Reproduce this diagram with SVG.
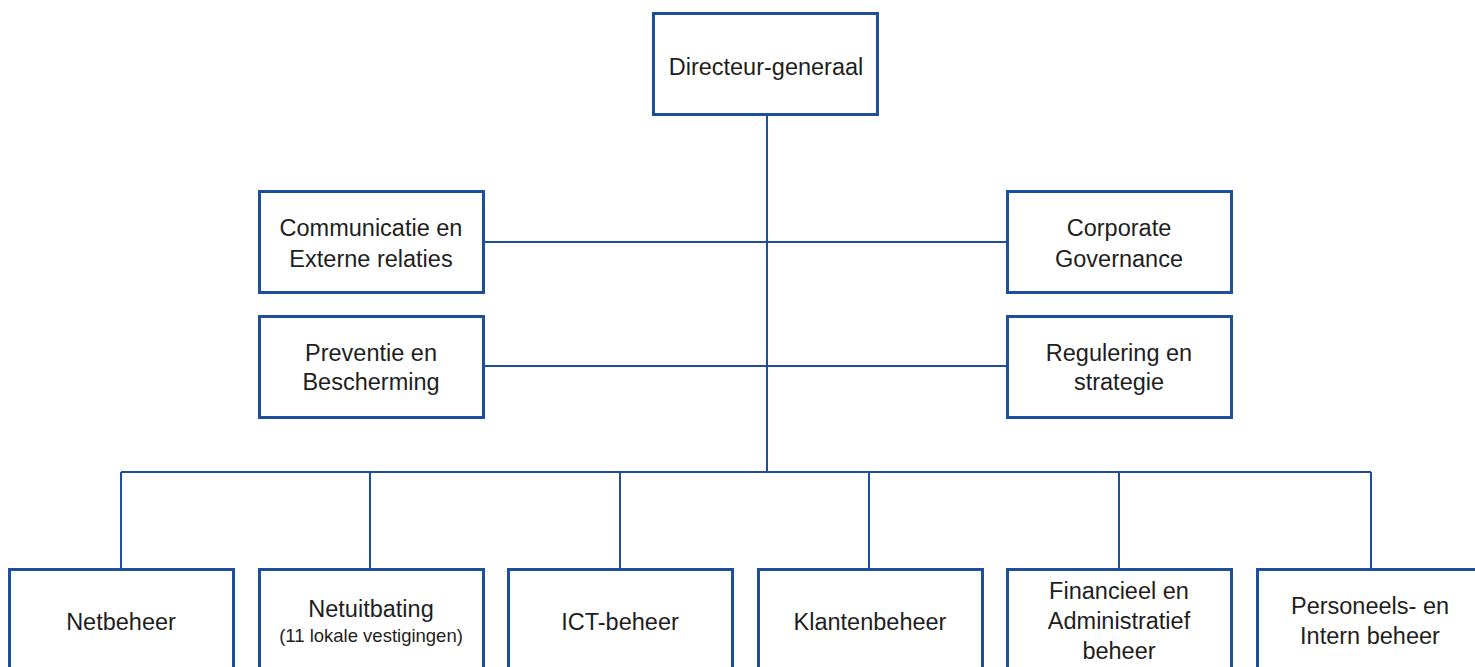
<svg xmlns="http://www.w3.org/2000/svg" width="1475" height="667" viewBox="0 0 1475 667">
<style>
.box{fill:#fff;stroke:#1d4f9c;stroke-width:3}
.ln{fill:none;stroke:#1d4f9c;stroke-width:2}
text{font-family:"Liberation Sans",Arial,sans-serif;font-size:23.5px;fill:#1e1e1e;text-anchor:middle}
.sm{font-size:18.5px}
</style>
<rect width="1475" height="667" fill="#fff"/>
<g id="connectors">
<path class="ln" d="M767 115V472M483 242H1007M483 366H1007M121 472H1371M121 472V569M370 472V569M620 472V569M869 472V569M1119 472V569M1371 472V569"/>
</g>
<g id="n-dg"><rect class="box" x="653.5" y="13.5" width="224" height="101"/><text x="766" y="75">Directeur-generaal</text></g>
<g id="n-comm"><rect class="box" x="259.5" y="191.5" width="224" height="101"/><text x="371" y="236">Communicatie en</text><text x="371" y="267">Externe relaties</text></g>
<g id="n-corp"><rect class="box" x="1007.5" y="191.5" width="224" height="101"/><text x="1119" y="236">Corporate</text><text x="1119" y="267">Governance</text></g>
<g id="n-prev"><rect class="box" x="259.5" y="316.5" width="224" height="101"/><text x="371" y="361">Preventie en</text><text x="371" y="390">Bescherming</text></g>
<g id="n-reg"><rect class="box" x="1007.5" y="316.5" width="224" height="101"/><text x="1119" y="361">Regulering en</text><text x="1119" y="390">strategie</text></g>
<g id="n-net"><rect class="box" x="9.5" y="569.5" width="224" height="110"/><text x="121" y="630">Netbeheer</text></g>
<g id="n-netu"><rect class="box" x="259.5" y="569.5" width="224" height="110"/><text x="371" y="617">Netuitbating</text><text class="sm" x="371" y="642">(11 lokale vestigingen)</text></g>
<g id="n-ict"><rect class="box" x="508.5" y="569.5" width="224" height="110"/><text x="620" y="630">ICT-beheer</text></g>
<g id="n-klant"><rect class="box" x="758.5" y="569.5" width="224" height="110"/><text x="870" y="630">Klantenbeheer</text></g>
<g id="n-fin"><rect class="box" x="1007.5" y="569.5" width="224" height="110"/><text x="1119" y="599">Financieel en</text><text x="1119" y="629">Administratief</text><text x="1119" y="659">beheer</text></g>
<g id="n-pers"><rect class="box" x="1257.5" y="569.5" width="224" height="110"/><text x="1370" y="614">Personeels- en</text><text x="1370" y="644">Intern beheer</text></g>
</svg>
